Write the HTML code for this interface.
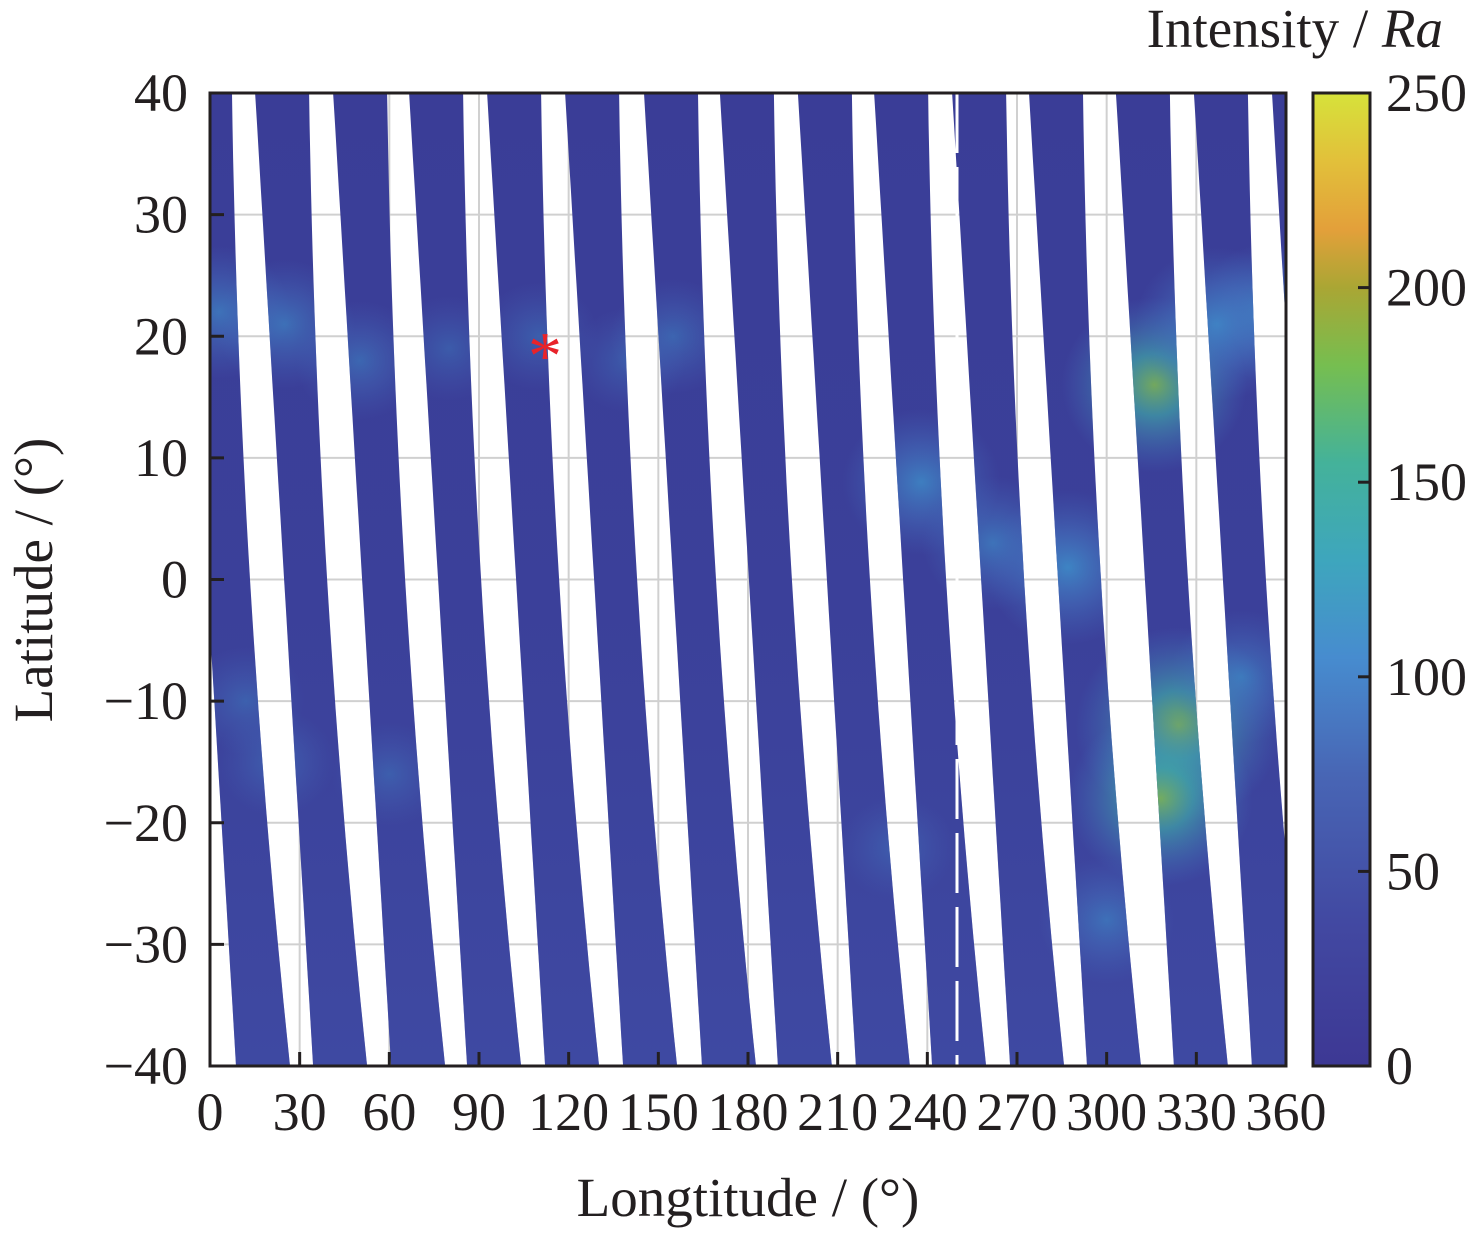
<!DOCTYPE html>
<html><head><meta charset="utf-8"><style>
html,body{margin:0;padding:0;background:#fff;}
svg text{font-family:"Liberation Serif",serif;fill:#231f20;}
</style></head><body>
<svg id="chart" width="1476" height="1233" viewBox="0 0 1476 1233" xmlns="http://www.w3.org/2000/svg">
<defs>
<linearGradient id="cbar" x1="0" y1="1" x2="0" y2="0">
<stop offset="0" stop-color="#3d3894"/>
<stop offset="0.15" stop-color="#4249a2"/>
<stop offset="0.3" stop-color="#4866b5"/>
<stop offset="0.42" stop-color="#478ccf"/>
<stop offset="0.52" stop-color="#3ea6bd"/>
<stop offset="0.62" stop-color="#44b29a"/>
<stop offset="0.72" stop-color="#76be50"/>
<stop offset="0.8" stop-color="#aaa634"/>
<stop offset="0.86" stop-color="#e3a03a"/>
<stop offset="0.93" stop-color="#e2c03a"/>
<stop offset="1" stop-color="#d6e23a"/>
</linearGradient>
<linearGradient id="bandShade" x1="0" y1="0" x2="0" y2="1">
<stop offset="0" stop-color="#4050a8" stop-opacity="0"/>
<stop offset="0.5" stop-color="#4050a8" stop-opacity="0.15"/>
<stop offset="1" stop-color="#4458b0" stop-opacity="0.45"/>
</linearGradient>
<radialGradient id="glow">
<stop offset="0" stop-color="#3f98d0" stop-opacity="0.9"/>
<stop offset="0.5" stop-color="#4680c8" stop-opacity="0.5"/>
<stop offset="1" stop-color="#4470c0" stop-opacity="0"/>
</radialGradient>
<radialGradient id="glowHot">
<stop offset="0" stop-color="#80c050" stop-opacity="0.9"/>
<stop offset="0.35" stop-color="#40b0a8" stop-opacity="0.7"/>
<stop offset="1" stop-color="#4480c8" stop-opacity="0"/>
</radialGradient>
<clipPath id="plotClip"><rect x="210" y="93" width="1076" height="973"/></clipPath>
<clipPath id="bandClip"></clipPath>
</defs>
<g id="grid"></g>
<g clip-path="url(#plotClip)">
<g id="bands"></g>
<g clip-path="url(#bandClip)">
<rect x="210" y="93" width="1076" height="973" fill="url(#bandShade)"/>
<g id="glows"></g>
</g>
</g>
<line x1="957" y1="93" x2="957" y2="1066" stroke="#fff" stroke-width="3" stroke-dasharray="60 14"/>
<g id="axes"></g>
<text id="star" font-size="68" style="fill:#e8232a" text-anchor="middle">*</text>
<rect x="1313" y="93" width="57" height="973" fill="url(#cbar)" stroke="#231f20" stroke-width="3"/>
<g id="cbticks"></g>
<text x="1443" y="47" font-size="55" text-anchor="end">Intensity / <tspan font-style="italic">Ra</tspan></text>
<text x="748" y="1216" font-size="55" text-anchor="middle">Longtitude / (°)</text>
<text transform="translate(52,580) rotate(-90)" font-size="55" text-anchor="middle">Latitude / (°)</text>
</svg>
<script>
const bandStartLon = [-10.7, 15.1, 41.2, 66.6, 92.7, 118.8, 145.2, 170.6, 196.7, 222.2, 248.3, 274.0, 303.1, 329.2, 355.3];
const xTicks = [0,30,60,90,120,150,180,210,240,270,300,330,360];
const yTicks = [40,30,20,10,0,-10,-20,-30,-40];
const cbTicks = [0,50,100,150,200,250];
const glowLon = [3, 25, 50, 110, 155, 238, 262, 287, 316, 337, 355, 324, 318, 300, 12, 22, 60, 345, 230, 140, 80];
const glowLat = [22, 21, 18, 20, 20, 8, 3, 1, 16, 21, 22, -12, -18, -28, -10, -15, -16, -8, -22, 18, 19];
const glowVal = [90, 85, 70, 55, 65, 110, 90, 120, 150, 120, 100, 180, 150, 80, 55, 55, 50, 90, 50, 50, 50];
const starLon = 112.1, starLat = 19.5;

const NS='http://www.w3.org/2000/svg';
const X0=210,X1=1286,Y0=93,Y1=1066;
const xs=v=>X0+(v/360)*(X1-X0);
const ys=v=>Y0+(40-v)/80*(Y1-Y0);
function mk(tag,attrs,parent){const e=document.createElementNS(NS,tag);for(const k in attrs)e.setAttribute(k,attrs[k]);parent.appendChild(e);return e;}
const grid=document.getElementById('grid');
xTicks.forEach(t=>{const l=mk('line',{x1:xs(t),x2:xs(t),y1:Y0,y2:Y1,stroke:'#d0d0d0','stroke-width':2},grid);

});
yTicks.forEach(t=>{const l=mk('line',{x1:X0,x2:X1,y1:ys(t),y2:ys(t),stroke:'#d0d0d0','stroke-width':2},grid);

});
const bands=document.getElementById('bands');
const clip=document.getElementById('bandClip');
bandStartLon.forEach(lon=>{
  const L=xs(lon);const N=30;let left=[],right=[];
  for(let i=0;i<=N;i++){const t=i/N;const y=Y0+t*(Y1-Y0);
    const lx=L+58*t;const w=54-44*t*(1-t);
    left.push(lx.toFixed(1)+','+y.toFixed(1));right.unshift((lx+w).toFixed(1)+','+y.toFixed(1));}
  const pts=left.concat(right).join(' ');
  const p=mk('polygon',{points:pts,fill:'#3a3d97'},bands);
  
  
  mk('polygon',{points:pts},clip);
});
const glows=document.getElementById('glows');
glowLon.forEach((g,i)=>{const v=glowVal[i];
  const e=mk('ellipse',{cx:xs(g),cy:ys(glowLat[i]),rx:40+v*0.35,ry:35+v*0.35,fill:v>=130?'url(#glowHot)':'url(#glow)',opacity:Math.min(0.9,v/140)},glows);
  
  });
const axes=document.getElementById('axes');
const fr=mk('rect',{x:X0,y:Y0,width:X1-X0,height:Y1-Y0,fill:'none',stroke:'#231f20','stroke-width':3},axes);


xTicks.forEach(t=>{const x=xs(t);
  const l=mk('line',{x1:x,x2:x,y1:Y1,y2:Y1-14,stroke:'#231f20','stroke-width':3},axes);
  
  
  const tx=mk('text',{x:x,y:1130,'font-size':54,'text-anchor':'middle'},axes);tx.textContent=t;
  
  });
yTicks.forEach(t=>{const y=ys(t);
  const l=mk('line',{x1:X0,x2:X0+14,y1:y,y2:y,stroke:'#231f20','stroke-width':3},axes);
  
  
  const tx=mk('text',{x:188,y:y+18,'font-size':54,'text-anchor':'end'},axes);tx.textContent=t<0?'\u2212'+(-t):t;
  
  });
const cb=document.getElementById('cbticks');
cbTicks.forEach(t=>{const y=Y1-(t/250)*(Y1-Y0);
  const l=mk('line',{x1:1358,x2:1370,y1:y,y2:y,stroke:'#231f20','stroke-width':3},cb);
  
  
  const tx=mk('text',{x:1386,y:y+18,'font-size':54},cb);tx.textContent=t;
  
  });
const st=document.getElementById('star');st.setAttribute('x',xs(starLon));st.setAttribute('y',ys(starLat)+36);
</script>
</body></html>
